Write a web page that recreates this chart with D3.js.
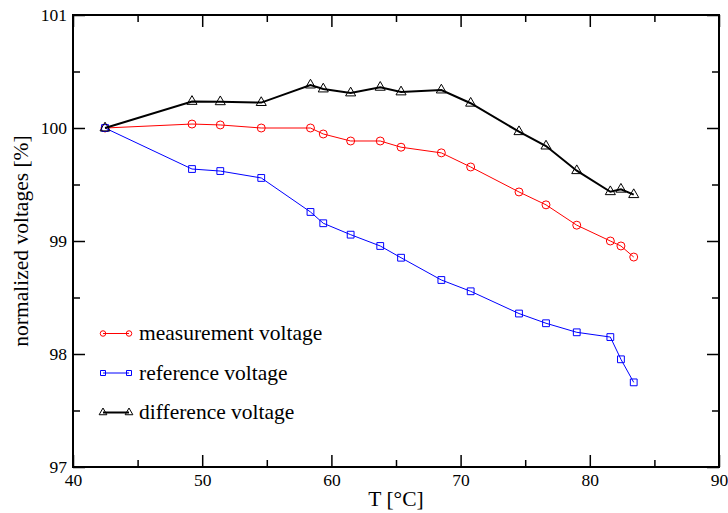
<!DOCTYPE html>
<meta charset="utf-8">
<style>
body { margin: 0; background: #fff; }
svg text { font-family: "Liberation Serif", "DejaVu Serif", serif; }
.domain { display: none; }
</style>
<svg width="728" height="513"></svg>
<script src="https://d3js.org/d3.v7.min.js"></script>
<script>

var temps = [42.48, 49.21, 51.40, 54.57, 58.38, 59.37, 61.49, 63.78, 65.39, 68.51, 70.78, 74.52, 76.61, 78.99, 81.59, 82.41, 83.40];
var measurement = [100.0, 100.035, 100.027, 100.0, 100.0, 99.947, 99.885, 99.885, 99.83, 99.78, 99.655, 99.434, 99.32, 99.14, 99.0, 98.956, 98.858];
var reference = [100.0, 99.637, 99.619, 99.558, 99.257, 99.157, 99.056, 98.956, 98.852, 98.655, 98.555, 98.358, 98.272, 98.192, 98.15, 97.953, 97.749];
var difference = [100.0, 100.235, 100.232, 100.225, 100.38, 100.345, 100.31, 100.36, 100.319, 100.336, 100.219, 99.967, 99.84, 99.622, 99.436, 99.458, 99.41];

var xTicks = [40, 50, 60, 70, 80, 90];
var yTicks = [97, 98, 99, 100, 101];
var xMinor = [45, 55, 65, 75, 85];
var yMinor = [97.5, 98.5, 99.5, 100.5];

var series = [
  {name: "measurement voltage", values: measurement, color: "#ff0000", width: 1, symbol: "circle"},
  {name: "reference voltage", values: reference, color: "#0000ff", width: 1, symbol: "square"},
  {name: "difference voltage", values: difference, color: "#000000", width: 2, symbol: "triangle"}
];

var svg = d3.select("svg"),
    margin = {top: 15, right: 9, bottom: 46, left: 73},
    width = +svg.attr("width") - margin.left - margin.right,
    height = +svg.attr("height") - margin.top - margin.bottom,
    g = svg.append("g").attr("transform", "translate(" + margin.left + "," + margin.top + ")");

var x = d3.scaleLinear().domain([40, 90]).range([0, width]);
var y = d3.scaleLinear().domain([97, 101]).range([height, 0]);

function styleTicks(sel, w) {
  sel.selectAll(".tick line").attr("stroke", "#000").attr("stroke-width", w);
  sel.selectAll(".tick text").attr("font-size", 17.5).attr("fill", "#000");
}

// major ticks (inward) on all four sides
g.append("g").attr("transform", "translate(0," + height + ")")
  .call(d3.axisBottom(x).tickValues(xTicks).tickSize(-12).tickPadding(7).tickFormat(d3.format("d")))
  .call(styleTicks, 1.5);
g.append("g")
  .call(d3.axisLeft(y).tickValues(yTicks).tickSize(-12).tickPadding(6).tickFormat(d3.format("d")))
  .call(styleTicks, 1.5);
g.append("g")
  .call(d3.axisTop(x).tickValues(xTicks).tickSize(-12).tickFormat(""))
  .call(styleTicks, 1.5);
g.append("g").attr("transform", "translate(" + width + ",0)")
  .call(d3.axisRight(y).tickValues(yTicks).tickSize(-12).tickFormat(""))
  .call(styleTicks, 1.5);

// minor ticks
g.append("g").attr("transform", "translate(0," + height + ")")
  .call(d3.axisBottom(x).tickValues(xMinor).tickSize(-7).tickFormat(""))
  .call(styleTicks, 1.5);
g.append("g")
  .call(d3.axisTop(x).tickValues(xMinor).tickSize(-7).tickFormat(""))
  .call(styleTicks, 1.5);
g.append("g")
  .call(d3.axisLeft(y).tickValues(yMinor).tickSize(-7).tickFormat(""))
  .call(styleTicks, 1.5);
g.append("g").attr("transform", "translate(" + width + ",0)")
  .call(d3.axisRight(y).tickValues(yMinor).tickSize(-7).tickFormat(""))
  .call(styleTicks, 1.5);

g.append("rect")
  .attr("width", width).attr("height", height)
  .attr("fill", "none").attr("stroke", "#000").attr("stroke-width", 2);

var symbolTypes = {circle: d3.symbolCircle, square: d3.symbolSquare, triangle: d3.symbolTriangle};
var symbolSizes = {circle: 50, square: 46, triangle: 44};
var legendSizes = {circle: 24, square: 25, triangle: 26};

var line = d3.line()
  .x(function(d) { return x(d.t); })
  .y(function(d) { return y(d.v); });

series.forEach(function(s) {
  var pts = temps.map(function(t, i) { return {t: t, v: s.values[i]}; });
  g.append("path")
    .datum(pts)
    .attr("fill", "none")
    .attr("stroke", s.color)
    .attr("stroke-width", s.width)
    .attr("d", line);
  g.append("g").selectAll("path")
    .data(pts)
    .enter().append("path")
      .attr("transform", function(d) { return "translate(" + x(d.t) + "," + y(d.v) + ")"; })
      .attr("d", d3.symbol().type(symbolTypes[s.symbol]).size(symbolSizes[s.symbol]))
      .attr("fill", "none")
      .attr("stroke", s.color)
      .attr("stroke-width", 1);
});

// legend
var legend = g.append("g")
  .selectAll("g")
  .data(series)
  .enter().append("g")
    .attr("transform", function(d, i) { return "translate(30," + (318.5 + i * 39.5) + ")"; });

legend.append("line")
  .attr("x1", 0).attr("x2", 26)
  .attr("stroke", function(d) { return d.color; })
  .attr("stroke-width", function(d) { return d.width; });

legend.each(function(d) {
  d3.select(this).selectAll(".sym")
    .data([0, 26])
    .enter().append("path")
      .attr("transform", function(px) { return "translate(" + px + ",0)"; })
      .attr("d", d3.symbol().type(symbolTypes[d.symbol]).size(legendSizes[d.symbol]))
      .attr("fill", "none")
      .attr("stroke", d.color)
      .attr("stroke-width", 1);
});

legend.append("text")
  .attr("x", 36)
  .attr("dy", "0.32em")
  .attr("font-size", 21.5)
  .text(function(d) { return d.name; });

// axis titles
svg.append("text")
  .attr("x", margin.left + width / 2)
  .attr("y", 506)
  .attr("text-anchor", "middle")
  .attr("font-size", 21.5)
  .text("T [°C]");

svg.append("text")
  .attr("transform", "translate(28," + (margin.top + height / 2) + ") rotate(-90)")
  .attr("text-anchor", "middle")
  .attr("font-size", 21.5)
  .text("normalized voltages [%]");

</script>
